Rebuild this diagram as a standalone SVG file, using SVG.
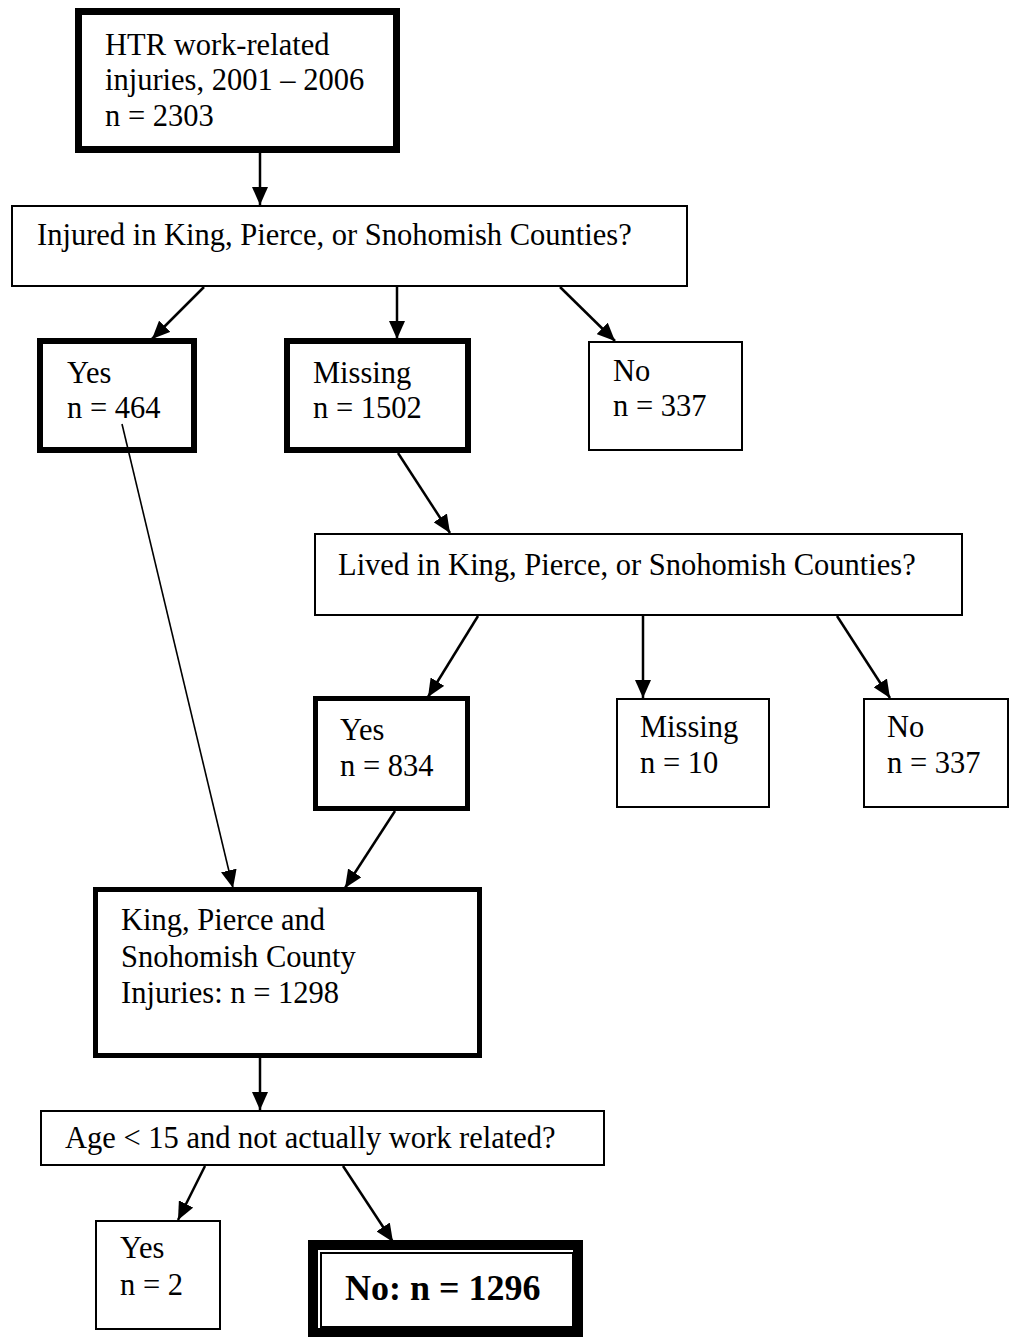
<svg xmlns="http://www.w3.org/2000/svg" width="1010" height="1337" viewBox="0 0 1010 1337">
<style>
.bg{fill:#ffffff}
.box{fill:#ffffff;stroke:#000000}
.thick{stroke-width:6}
.thin{stroke-width:2}
.t{font-family:"Liberation Serif","Times New Roman",serif;font-size:30.5px;fill:#000000}
.tb{font-family:"Liberation Serif","Times New Roman",serif;font-size:36px;font-weight:bold;fill:#000000}
.c{stroke:#000000;stroke-width:2.5;fill:none;marker-end:url(#ah)}
.cs{stroke:#000000;stroke-width:1.6;fill:none;marker-end:url(#ah)}
</style>
<defs>
<marker id="ah" markerUnits="userSpaceOnUse" markerWidth="18" markerHeight="16" refX="18" refY="8" orient="auto" viewBox="0 0 18 16">
<path d="M0,0 L18,8 L0,16 z" fill="#000000"/>
</marker>
</defs>
<rect class="bg" x="0" y="0" width="1010" height="1337"/>

<g id="n-start">
<rect class="box" x="78.5" y="11.5" width="318" height="138" stroke-width="7"/>
<text class="t" x="105" y="55">HTR work-related</text>
<text class="t" x="105" y="90">injuries, 2001 – 2006</text>
<text class="t" x="105" y="126">n = 2303</text>
</g>

<g id="q-injured">
<rect class="box thin" x="12" y="206" width="675" height="80"/>
<text class="t" x="37" y="245">Injured in King, Pierce, or Snohomish Counties?</text>
</g>

<g id="n-yes464">
<rect class="box thick" x="40" y="341" width="154" height="109"/>
<text class="t" x="67" y="383">Yes</text>
<text class="t" x="67" y="418">n = 464</text>
</g>

<g id="n-missing1502">
<rect class="box thick" x="287" y="341" width="181" height="109"/>
<text class="t" x="313" y="383">Missing</text>
<text class="t" x="313" y="418">n = 1502</text>
</g>

<g id="n-no337a">
<rect class="box thin" x="589" y="342" width="153" height="108"/>
<text class="t" x="613" y="381">No</text>
<text class="t" x="613" y="416">n = 337</text>
</g>

<g id="q-lived">
<rect class="box thin" x="315" y="534" width="647" height="81"/>
<text class="t" x="338" y="575">Lived in King, Pierce, or Snohomish Counties?</text>
</g>

<g id="n-yes834">
<rect class="box" x="315.5" y="698.5" width="152" height="110" stroke-width="5"/>
<text class="t" x="340" y="740">Yes</text>
<text class="t" x="340" y="776">n = 834</text>
</g>

<g id="n-missing10">
<rect class="box thin" x="617" y="699" width="152" height="108"/>
<text class="t" x="640" y="737">Missing</text>
<text class="t" x="640" y="773">n = 10</text>
</g>

<g id="n-no337b">
<rect class="box thin" x="864" y="699" width="144" height="108"/>
<text class="t" x="887" y="737">No</text>
<text class="t" x="887" y="773">n = 337</text>
</g>

<g id="n-county">
<rect class="box" x="95.5" y="889.5" width="384" height="166" stroke-width="5"/>
<text class="t" x="121" y="930">King, Pierce and</text>
<text class="t" x="121" y="967">Snohomish County</text>
<text class="t" x="121" y="1003">Injuries: n = 1298</text>
</g>

<g id="q-age">
<rect class="box thin" x="41" y="1111" width="563" height="54"/>
<text class="t" x="65" y="1148">Age &lt; 15 and not actually work related?</text>
</g>

<g id="n-yes2">
<rect class="box thin" x="96" y="1221" width="124" height="108"/>
<text class="t" x="120" y="1258">Yes</text>
<text class="t" x="120" y="1295">n = 2</text>
</g>

<g id="n-final">
<rect class="box" x="313" y="1245" width="265" height="88" stroke-width="10"/>
<rect fill="none" stroke="#000000" stroke-width="2" x="321" y="1253" width="252" height="74"/>
<text class="tb" x="345" y="1300">No: n = 1296</text>
</g>

<g id="connectors">
<line class="c" x1="260" y1="153" x2="260" y2="205"/>
<line class="c" x1="204" y1="287" x2="152" y2="339"/>
<line class="c" x1="397" y1="287" x2="397" y2="339"/>
<line class="c" x1="560" y1="287" x2="615" y2="341"/>
<line class="c" x1="398" y1="453" x2="450" y2="533"/>
<line class="c" x1="478" y1="616" x2="428" y2="697"/>
<line class="c" x1="643" y1="616" x2="643" y2="698"/>
<line class="c" x1="837" y1="616" x2="890" y2="698"/>
<line class="cs" x1="122" y1="424" x2="233" y2="888"/>
<line class="c" x1="395" y1="811" x2="345" y2="888"/>
<line class="c" x1="260" y1="1058" x2="260" y2="1110"/>
<line class="c" x1="205" y1="1166" x2="178" y2="1220"/>
<line class="c" x1="343" y1="1166" x2="393" y2="1242"/>
</g>
</svg>
